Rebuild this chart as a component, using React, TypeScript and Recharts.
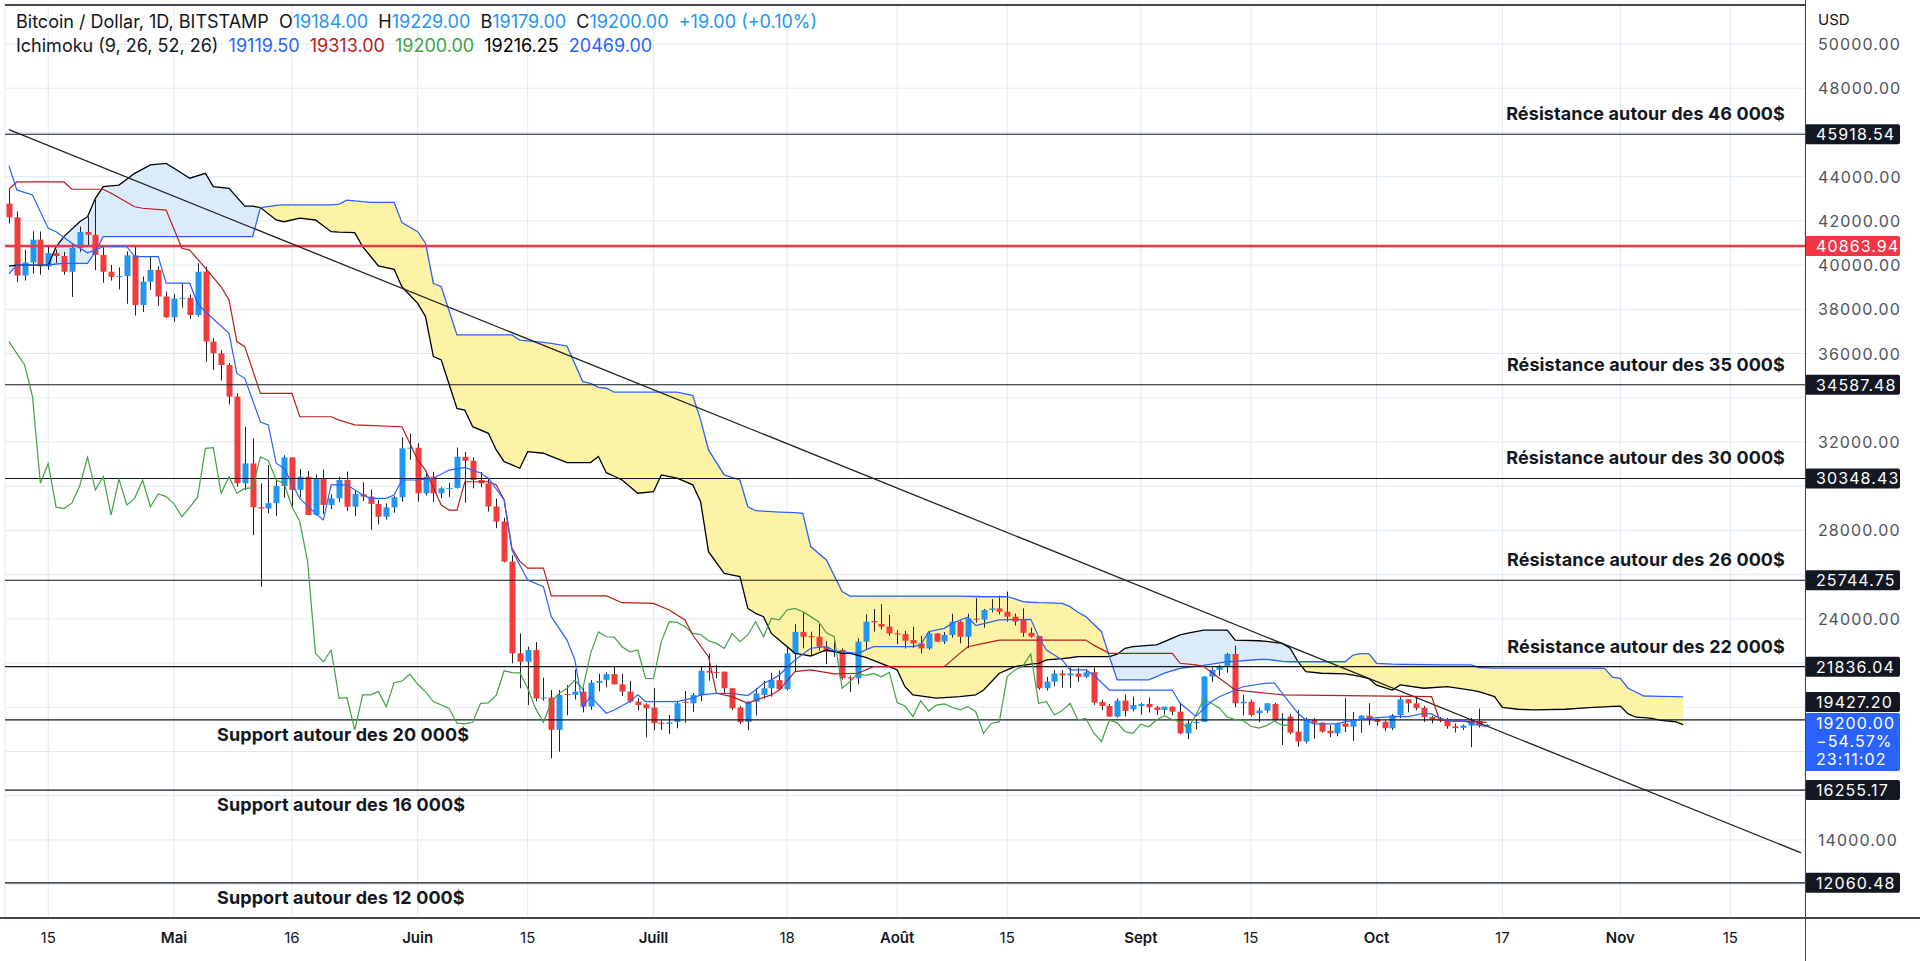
import { ComposedChart, Bar, Line, Area, XAxis, YAxis, CartesianGrid, ReferenceLine } from 'recharts'

// day 0 = 15 avril 2022, one row per day
const FIRST_DAY = -5
const LAST_DAY = 223
const CHIKOU_SHIFT = 25

// daily candles, 10 avril -> 15 octobre
const opens = [
  42780, 42160, 39530, 40120, 41150, 39940, 40540, 40410, 39700, 40780, 41500, 41370, 40460, 39700, 39470, 39500, 40440, 38190, 39250, 39780, 38580,
  37640, 38490, 38520, 37740, 39700, 36540, 36010, 35480, 34050, 30130, 31030, 29050, 28990, 29230, 30010, 31300, 29830, 30430, 28700, 30320, 29150, 29450, 30280, 29070, 29650, 29530, 29200, 28620, 29040, 29500, 31710,
  31740, 29680, 30430, 29680, 29900, 29920, 31330, 31150, 30280, 30130, 29080, 28400, 26590, 22440, 22060, 22590, 20400, 20440, 18980, 20600, 20560, 20710, 20030, 21110, 21240, 21500, 21040, 20710, 20260, 20130,
  19990, 19300, 19250, 19340, 20250, 20180, 20550, 21650, 21600, 21610, 20860, 19990, 19340, 20250, 20560, 20860, 21230, 20820, 22440, 23410, 23220, 23190, 22740, 22510, 22590, 21350, 21310, 22970, 23900, 23770, 23650,
  23340, 23310, 23040, 22890, 22660, 23340, 22970, 23270, 23870, 23190, 24010, 23960, 24400, 24470, 24320, 24100, 23950, 23370, 23220, 20860, 21160, 21530, 21440, 21530, 21380, 21590, 20240, 20060, 19580, 20300, 19910,
  20060, 20150, 20000, 19880, 20030, 19800, 18820, 19280, 19340, 21390, 21690, 21870, 22410, 20180, 20250, 19730, 19850, 20150, 19420, 19580, 18900, 18450, 19420, 19300, 18940, 18820, 19270, 19120, 19420, 19620,
  19450, 19340, 19050, 19640, 20360, 20180, 19980, 19560, 19440, 19440, 19140, 19070, 19170, 19380, 19184,
]
const highs = [
  43430, 42420, 40690, 41530, 41520, 40880, 40700, 40600, 41000, 41740, 42200, 42960, 40800, 40000, 39900, 40620, 40830, 39480, 40390, 39940, 38800,
  38690, 39180, 38680, 40080, 39930, 36700, 36150, 35560, 34200, 32690, 32160, 30130, 30960, 30290, 31400, 31300, 30780, 30680, 30520, 30750, 29630, 30440, 30660, 29830, 30180, 29850, 29380, 29230, 29560, 32210, 32380,
  31950, 30670, 30650, 29950, 30150, 31750, 31550, 31300, 30640, 30330, 29440, 28570, 26880, 23340, 22740, 22950, 21340, 20780, 20780, 21000, 21700, 20870, 21230, 21520, 21580, 21870, 21520, 21190, 20420, 20180,
  20870, 19420, 19650, 20280, 20730, 20640, 21830, 22420, 21920, 21620, 20880, 20050, 20270, 20880, 21190, 21560, 21660, 22740, 23760, 24300, 23420, 23760, 22990, 22990, 22660, 21440, 23120, 24200, 24440, 24660, 24180,
  23490, 23450, 23650, 23220, 23460, 23350, 23400, 24230, 23930, 24230, 24930, 24450, 24890, 25050, 25230, 24240, 24470, 23600, 23220, 21370, 21690, 21680, 21790, 21780, 21720, 21800, 20340, 20150, 20400, 20580, 20480,
  20200, 20450, 20060, 20000, 20040, 20180, 19440, 19450, 21400, 21800, 21900, 22460, 22790, 20560, 20350, 19990, 20180, 20200, 19730, 19690, 19880, 19540, 19510, 19320, 19190, 19310, 20410, 19790, 19650, 20180,
  19480, 19400, 19700, 20460, 20370, 20460, 20060, 19610, 19560, 19520, 19260, 19220, 19520, 19940, 19229,
]
const lows = [
  41880, 39230, 39300, 39620, 39560, 39780, 40100, 39560, 38560, 40600, 40870, 39770, 39200, 39300, 38900, 38250, 37720, 37880, 38870, 38160, 37600,
  37440, 38070, 37560, 37670, 35630, 35260, 34780, 33700, 29980, 29830, 27790, 25450, 28770, 28650, 29480, 29080, 29500, 28690, 28680, 28740, 28960, 29270, 28880, 28650, 29330, 28020, 28270, 28490, 28800, 29300, 31200,
  29300, 29580, 29280, 29460, 29520, 29890, 29250, 29900, 29950, 28850, 28100, 26560, 21990, 20860, 20100, 20270, 20300, 17690, 17990, 19640, 20350, 19770, 19890, 20720, 20910, 21020, 20510, 20200, 19860, 18640,
  18960, 18980, 18800, 19050, 19300, 19790, 20270, 21200, 21310, 20650, 19870, 19240, 18970, 19630, 20390, 20480, 20770, 20760, 21600, 22670, 22330, 22550, 21950, 22270, 21250, 20700, 21040, 22590, 23420, 23520, 23240,
  22850, 22660, 22690, 22430, 22590, 22950, 22860, 23150, 22890, 22680, 23830, 23600, 24290, 24200, 23870, 23700, 23190, 23150, 20790, 20760, 20950, 20890, 20880, 21150, 21330, 20110, 19860, 19580, 19530, 19580, 19810,
  19670, 19760, 19650, 19670, 19640, 18780, 18560, 19000, 19340, 21150, 21420, 21560, 20000, 19630, 19580, 19320, 19750, 19380, 18290, 18780, 18220, 18360, 18580, 18850, 18650, 18690, 18880, 18480, 18850, 19200,
  19180, 18930, 18970, 19510, 19770, 19860, 19340, 19270, 19320, 19030, 18860, 18970, 18190, 19080, 19179,
]
const closes = [
  42160, 39530, 40120, 41150, 39940, 40540, 40410, 39700, 40780, 41500, 41370, 40460, 39700, 39470, 39500, 40440, 38190, 39250, 39780, 38580, 37640,
  38490, 38520, 37740, 39700, 36540, 36010, 35480, 34050, 30130, 31030, 29050, 28990, 29230, 30010, 31300, 29830, 30430, 28700, 30320, 29150, 29450, 30280, 29070, 29650, 29530, 29200, 28620, 29040, 29500, 31710, 31740,
  29680, 30430, 29680, 29900, 29920, 31330, 31150, 30280, 30130, 29080, 28400, 26590, 22440, 22060, 22590, 20400, 20440, 18980, 20560, 20560, 20710, 20030, 21110, 21190, 21500, 21040, 20710, 20260, 20100, 19950,
  19280, 19250, 19320, 20180, 20200, 20550, 21650, 21570, 21560, 20860, 19950, 19320, 20250, 20630, 20860, 21230, 20820, 22440, 23410, 23190, 23170, 22740, 22510, 22590, 21310, 21300, 22970, 23870, 23840, 23650, 23340,
  23290, 23010, 22890, 22660, 23340, 22970, 23270, 23870, 23190, 24020, 23960, 24400, 24470, 24320, 24100, 23870, 23370, 23190, 20860, 21160, 21530, 21440, 21530, 21380, 21580, 20210, 20060, 19580, 20300, 19830, 20100,
  20150, 20000, 19880, 20030, 19800, 18820, 19280, 19340, 21390, 21690, 21870, 22410, 20180, 20250, 19650, 19850, 20180, 19420, 19500, 18850, 18450, 19420, 19300, 18900, 18820, 19240, 19120, 19420, 19620, 19450,
  19340, 19050, 19640, 20360, 20180, 19960, 19560, 19440, 19400, 19140, 19060, 19170, 19380, 19180, 19200,
]

// Ichimoku lines, read at their corners
const tenkanDays = [-5, -4, -2, 0, 1, 3, 5, 7, 10, 11, 14, 15, 18, 19, 20, 23, 24, 25, 27, 28, 29, 30, 32, 34, 35, 36, 38, 40, 41, 43, 44, 45, 47, 49, 51, 53, 55, 56, 58, 59, 61, 63, 64, 66, 67, 68, 69, 71, 72, 74, 75, 76, 80, 82, 83, 85, 87, 89, 90, 91, 92, 93, 95, 97, 99, 100, 101, 103, 105, 110, 111, 112, 114, 115, 117, 118, 121, 125, 126, 127, 129, 130, 132, 133, 135, 143, 144, 146, 148, 149, 152, 155, 156, 157, 159, 160, 161, 164, 165, 168, 171, 173, 175, 176, 177, 179, 180, 181, 183]
const tenkanVals = [44500, 43400, 43170, 41660, 41510, 40990, 40560, 40830, 40830, 40380, 40380, 39180, 39180, 38270, 37890, 36910, 35100, 34880, 32900, 32770, 31040, 30810, 29450, 28770, 28470, 30060, 30060, 29600, 29450, 29450, 29600, 30280, 30280, 30360, 30730, 30850, 30600, 30360, 29380, 27100, 25760, 25450, 24100, 23040, 22140, 20030, 20480, 19730, 19880, 20260, 20560, 20260, 20260, 20410, 20560, 20630, 20630, 20530, 20780, 21090, 21240, 21460, 22140, 22670, 22740, 22560, 22510, 22440, 22740, 22740, 22820, 23420, 23570, 23800, 24070, 23700, 23950, 23980, 23190, 22590, 22140, 21690, 21690, 21460, 20780, 20780, 20180, 19600, 20260, 20480, 20930, 21090, 21090, 20630, 19730, 19430, 19250, 19250, 19350, 19500, 19580, 19580, 19730, 19700, 19500, 19350, 19420, 19270, 19120]

const kijunDays = [-5, -4, 2, 3, 7, 8, 11, 12, 15, 17, 18, 20, 22, 23, 24, 25, 27, 31, 32, 36, 37, 39, 45, 46, 47, 48, 50, 51, 52, 53, 56, 57, 58, 59, 60, 61, 63, 64, 71, 73, 77, 79, 81, 82, 84, 85, 87, 89, 90, 92, 93, 95, 97, 100, 103, 105, 114, 116, 117, 119, 121, 132, 133, 135, 143, 144, 146, 147, 149, 151, 153, 156, 157, 176, 177, 183]
const kijunVals = [43430, 43760, 43760, 43430, 43430, 43250, 42640, 42570, 42490, 40760, 40680, 39860, 39020, 38420, 36540, 36310, 34200, 34200, 33140, 33140, 32990, 32770, 32690, 31940, 31190, 30730, 29150, 28920, 28920, 30200, 30200, 30060, 29380, 27190, 26600, 26290, 26290, 25040, 25040, 24730, 24700, 24400, 23950, 23270, 22290, 20630, 20480, 20180, 20330, 20560, 20780, 21610, 21690, 21510, 21540, 21840, 21840, 22450, 22740, 22890, 23040, 23040, 22810, 22440, 22440, 21990, 21920, 21840, 21310, 20780, 20710, 20600, 20560, 20480, 19420, 19313]

const cloudDays = [
  -5, -4, 0, 1, 2, 4, 5, 6, 7, 9,
  11, 13, 15, 16, 18, 20, 21, 23, 25, 26,
  27, 29, 30, 32, 34, 36, 37, 38, 39, 40,
  41, 42, 44, 45, 47, 48, 49, 50, 52, 53,
  54, 56, 57, 58, 59, 60, 61, 63, 64, 66,
  68, 69, 70, 71, 72, 73, 75, 77, 78, 80,
  82, 83, 84, 86, 88, 89, 90, 91, 92, 93,
  95, 96, 97, 99, 101, 102, 104, 107, 108, 109,
  110, 113, 116, 118, 119, 121, 122, 123, 124, 125,
  126, 127, 129, 130, 131, 132, 134, 135, 136, 137,
  138, 140, 141, 142, 144, 145, 147, 150, 151, 154,
  155, 157, 158, 159, 160, 162, 165, 166, 167, 168,
  169, 171, 172, 175, 178, 181, 182, 184, 185, 187,
  189, 193, 196, 198, 199, 200, 201, 202, 203, 204,
  205, 207, 208,
]
const spanA = [
  39950, 40000, 40000, 40830, 41290, 41960, 42190, 43020, 43550, 43620,
  44150, 44530, 44600, 44380, 43930, 44150, 43550, 43470, 42670, 42670,
  42600, 42040, 41960, 42120, 42040, 41510, 41490, 41480, 41470, 40830,
  40400, 39960, 39810, 39020, 38270, 37670, 35860, 35710, 33520, 33440,
  32690, 32390, 31640, 31110, 30960, 30810, 31560, 31490, 31350, 31070,
  31070, 31070, 31340, 30610, 30450, 30280, 29680, 29750, 30510, 30360,
  30060, 29300, 27040, 26060, 25910, 24470, 24250, 24100, 23340, 23040,
  22440, 22380, 22320, 22590, 22440, 22440, 22260, 21840, 21690, 20930,
  20560, 20410, 20480, 20560, 20780, 21540, 21690, 21840, 21900, 21950,
  21990, 22140, 22200, 22240, 22290, 22290, 22290, 22290, 22400, 22670,
  22740, 22800, 22820, 22970, 23270, 23350, 23490, 23490, 23040, 23010,
  22980, 22890, 22670, 22060, 21610, 21540, 21510, 21450, 21390, 21300,
  21000, 20780, 21010, 20860, 20930, 20780, 20710, 20480, 20000, 19910,
  19880, 19910, 19980, 20020, 20040, 20055, 19700, 19550, 19530, 19500,
  19420, 19345, 19216,
]
const spanB = [
  39600, 40000, 40000, 40050, 40080, 40080, 40080, 40600, 41290, 41290,
  41290, 41290, 41290, 41290, 41290, 41290, 41290, 41290, 41290, 41290,
  42600, 42700, 42720, 42720, 42720, 42720, 42760, 42940, 42900, 42870,
  42840, 42840, 42840, 41920, 41510, 40990, 39180, 39020, 36840, 36840,
  36840, 36840, 36840, 36840, 36840, 36610, 36570, 36500, 36460, 36340,
  34730, 34650, 34470, 34430, 34250, 34250, 34250, 34250, 34250, 34250,
  34100, 33000, 31640, 30510, 30280, 29070, 28890, 28870, 28850, 28830,
  28800, 28770, 27270, 26660, 25230, 25030, 25030, 25030, 25030, 25030,
  25030, 25030, 25030, 25010, 25000, 25000, 25000, 24900, 24780, 24750,
  24730, 24720, 24700, 24550, 24300, 24100, 23420, 22290, 21240, 21240,
  21240, 21240, 21390, 21540, 21760, 21810, 21900, 22060, 22080, 22160,
  22170, 22080, 22060, 22060, 22060, 22060, 22060, 22360, 22430, 22430,
  21990, 21950, 21940, 21930, 21920, 21915, 21800, 21770, 21770, 21770,
  21770, 21770, 21770, 21760, 21360, 21310, 20860, 20680, 20510, 20500,
  20490, 20480, 20469,
]
// days where the cloud changes colour (A/B cross)
const cloudTwists = [27, 135, 159]

const levelPrices = [45918.54, 40863.94, 34587.48, 30348.43, 25744.75, 21836.04, 19427.2, 16255.17, 12060.48]
const levelTexts = [
  'Résistance autour des 46 000$', '', 'Résistance autour des 35 000$', 'Résistance autour des 30 000$',
  'Résistance autour des 26 000$', 'Résistance autour des 22 000$', 'Support autour des 20 000$',
  'Support autour des 16 000$', 'Support autour des 12 000$',
]
const trendDays = [-5, 223]
const trendPrices = [46125, 13415]

const lastPrice = 19200
const lastChange = '−54.57%'
const countdown = '23:11:02'

const tickDays = [0, 16, 31, 47, 61, 77, 94, 108, 122, 139, 153, 169, 185, 200, 214]
const tickLabels = ['15', 'Mai', '16', 'Juin', '15', 'Juill', '18', 'Août', '15', 'Sept', '15', 'Oct', '17', 'Nov', '15']
const priceTicks = [12000, 14000, 16000, 18000, 20000, 22000, 24000, 26000, 28000, 30000, 32000, 34000, 36000, 38000, 40000, 42000, 44000, 46000, 48000, 50000]
const shownTicks = [14000, 24000, 28000, 32000, 36000, 38000, 40000, 42000, 44000, 48000, 50000]

const UP = '#2196f3'
const DOWN = '#f23c3c'
const INK = '#131722'

const rows: any[] = []
for (let d = FIRST_DAY; d <= LAST_DAY; d++) rows.push({ day: d })
const at = (d: number) => rows[d - FIRST_DAY]
opens.forEach((o, i) => {
  const r = rows[i]
  r.o = o; r.h = highs[i]; r.l = lows[i]; r.c = closes[i]
})
closes.forEach((c, i) => {
  const d = FIRST_DAY + i - CHIKOU_SHIFT
  if (d >= FIRST_DAY) at(d).chikou = c
})
tenkanDays.forEach((d, i) => { at(d).tenkan = tenkanVals[i] })
kijunDays.forEach((d, i) => { at(d).kijun = kijunVals[i] })
cloudDays.forEach((d, i) => {
  const r = at(d)
  const a = spanA[i], b = spanB[i]
  r.spanA = a; r.spanB = b
  const band = [Math.min(a, b), Math.max(a, b)]
  let seg = cloudTwists.filter(t => d > t).length
  r['cloud' + seg] = band
  if (cloudTwists.includes(d)) r['cloud' + (seg + 1)] = band
})

const candleRange = (r: any) => (r.o == null ? null : [r.l, r.h])

const Candle = (props: any) => {
  const { x, y, width, height, payload } = props
  if (!payload || payload.o == null) return <g />
  const top = Math.min(y, y + height)
  const h = Math.abs(height)
  const k = payload.h === payload.l ? 0 : h / (payload.h - payload.l)
  const hi = Math.max(payload.o, payload.c)
  const lo = Math.min(payload.o, payload.c)
  const by = top + (payload.h - hi) * k
  const bh = Math.max(1, (hi - lo) * k)
  const cx = Math.round(x + width / 2) + 0.5
  return (
    <g>
      <line x1={cx} x2={cx} y1={top} y2={top + Math.max(h, 1)} stroke="#222" strokeWidth={1} />
      <rect x={cx - 3} y={by} width={6} height={bh} fill={payload.c >= payload.o ? UP : DOWN} />
    </g>
  )
}

const DayTick = ({ x, y, payload }: any) => {
  const label = tickLabels[tickDays.indexOf(payload.value)]
  const month = isNaN(Number(label))
  return (
    <text x={x} y={y + 25} textAnchor="middle" fontSize={15} fontWeight={month ? 600 : 400} fill={INK}>{label}</text>
  )
}

const PriceTick = ({ x, y, payload }: any) => {
  if (!shownTicks.includes(payload.value)) return <g />
  return <text x={x + 13} y={y + 6} fontSize={16} fill="#50535e" letterSpacing={1.1}>{payload.value.toFixed(2)}</text>
}

const LevelLabel = (props: any) => {
  const { viewBox, text, support, tagFill, tagDy } = props
  if (!viewBox) return <g />
  const y = viewBox.y
  const right = viewBox.x + viewBox.width
  const ty = y + (tagDy || 0)
  return (
    <g>
      {text && !support && (
        <text x={right - 20} y={y - 14} textAnchor="end" fontSize={18} fontWeight={700} fill={INK} letterSpacing={0.1}>{text}</text>
      )}
      {text && support && (
        <text x={viewBox.x + 212} y={y + 21} fontSize={18} fontWeight={700} fill={INK} letterSpacing={0.1}>{text}</text>
      )}
      <rect x={right} y={ty - 10} width={95} height={20} rx={2} fill={tagFill} />
      <text x={right + 11} y={ty + 6} fontSize={16} fill="#fff" letterSpacing={1.1}>{props.tag}</text>
    </g>
  )
}

const LastTag = (props: any) => {
  const { viewBox } = props
  if (!viewBox) return <g />
  const y = viewBox.y
  const right = viewBox.x + viewBox.width
  return (
    <g>
      <rect x={right} y={y - 12} width={95} height={58} rx={2} fill="#2962ff" />
      <text x={right + 11} y={y + 4} fontSize={16} fill="#fff" letterSpacing={1.1}>{lastPrice.toFixed(2)}</text>
      <text x={right + 11} y={y + 22} fontSize={16} fill="#fff" letterSpacing={1.1}>{lastChange}</text>
      <text x={right + 11} y={y + 40} fontSize={16} fill="#fff" letterSpacing={1.1}>{countdown}</text>
    </g>
  )
}

const Header = () => (
  <div style={{ position: 'absolute', left: 16, top: 10, fontSize: 18, lineHeight: '24px', color: INK, whiteSpace: 'pre' }}>
    <div>
      Bitcoin / Dollar, 1D, BITSTAMP{'  '}O<span style={{ color: UP }}>19184.00</span>{'  '}H<span style={{ color: UP }}>19229.00</span>
      {'  '}B<span style={{ color: UP }}>19179.00</span>{'  '}C<span style={{ color: UP }}>19200.00</span>{'  '}
      <span style={{ color: UP }}>+19.00 (+0.10%)</span>
    </div>
    <div>
      Ichimoku (9, 26, 52, 26){'  '}<span style={{ color: '#2962ff' }}>19119.50</span>{'  '}
      <span style={{ color: '#b71c1c' }}>19313.00</span>{'  '}<span style={{ color: '#43a047' }}>19200.00</span>{'  '}
      <span style={{ color: '#000' }}>19216.25</span>{'  '}<span style={{ color: '#2962ff' }}>20469.00</span>
    </div>
  </div>
)

export default function App() {
  const cloudFills = ['#dcebfb', '#fdf3a6', '#dcebfb', '#fdf3a6']
  return (
    <div style={{ position: 'absolute', left: 0, top: 0, width: 1920, height: 961, background: '#fff', fontFamily: 'Inter, sans-serif', overflow: 'hidden' }}>
      <ComposedChart width={1920} height={961} data={rows} margin={{ top: 5, right: 0, bottom: 0, left: 5 }}>
        <CartesianGrid stroke="#e1eaf3" />
        <XAxis dataKey="day" type="category" ticks={tickDays} interval={0} tick={DayTick} axisLine={false} tickLine={false} tickSize={0} tickMargin={0} height={43} />
        <YAxis orientation="right" type="number" domain={[10469, 51764]} allowDataOverflow ticks={priceTicks} tick={PriceTick} axisLine={false} tickLine={false} tickSize={0} tickMargin={0} width={115} />
        {cloudFills.map((f, i) => (
          <Area key={i} dataKey={'cloud' + i} type="linear" stroke="none" fill={f} fillOpacity={1} connectNulls isAnimationActive={false} activeDot={false} />
        ))}
        <Line dataKey="spanA" type="linear" stroke="#000" strokeWidth={1.3} dot={false} activeDot={false} connectNulls isAnimationActive={false} />
        <Line dataKey="spanB" type="linear" stroke="#2962ff" strokeWidth={1.3} dot={false} activeDot={false} connectNulls isAnimationActive={false} />
        {levelPrices.map((p, i) => (
          <ReferenceLine
            key={p}
            y={p}
            stroke={i === 1 ? '#f23645' : INK}
            strokeWidth={i === 1 ? 2.5 : 1.2}
            label={<LevelLabel text={levelTexts[i]} support={p < 20000} tag={p.toFixed(2)} tagFill={i === 1 ? '#f23645' : INK} tagDy={p === 19427.2 ? -18 : 0} />}
          />
        ))}
        <ReferenceLine y={lastPrice} stroke="none" label={<LastTag />} />
        <ReferenceLine segment={[{ x: trendDays[0], y: trendPrices[0] }, { x: trendDays[1], y: trendPrices[1] }]} stroke="#222" strokeWidth={1.3} />
        <Line dataKey="chikou" type="linear" stroke="#43a047" strokeWidth={1.2} dot={false} activeDot={false} isAnimationActive={false} />
        <Line dataKey="kijun" type="linear" stroke="#b71c1c" strokeWidth={1.2} dot={false} activeDot={false} connectNulls isAnimationActive={false} />
        <Line dataKey="tenkan" type="linear" stroke="#2962ff" strokeWidth={1.2} dot={false} activeDot={false} connectNulls isAnimationActive={false} />
        <Bar dataKey={candleRange} shape={Candle} barSize={6} isAnimationActive={false} />
      </ComposedChart>
      <Header />
      <div style={{ position: 'absolute', left: 1818, top: 10, fontSize: 15, color: INK }}>USD</div>
      <div style={{ position: 'absolute', left: 5, top: 4, width: 1800, height: 2, background: '#434651' }} />
      <div style={{ position: 'absolute', left: 0, top: 917, width: 1920, height: 2, background: '#434651' }} />
      <div style={{ position: 'absolute', left: 1805, top: 0, width: 1, height: 961, background: '#434651' }} />
    </div>
  )
}
